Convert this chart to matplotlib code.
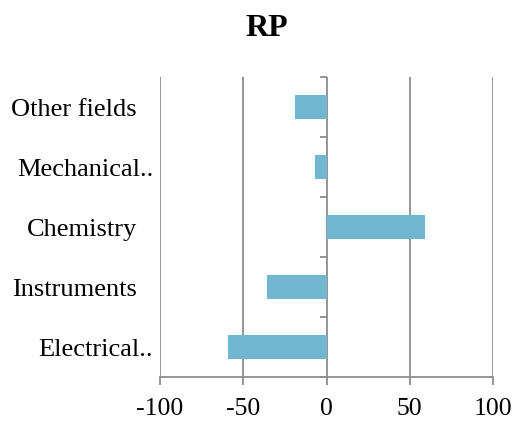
import numpy as np
import matplotlib.pyplot as plt
import matplotlib.transforms as mtransforms

# data (bottom to top)
categories = ['Electrical..', 'Instruments', 'Chemistry', 'Mechanical..', 'Other fields']
values = [-59, -36, 59, -7, -19]
xticks = [-100, -50, 0, 50, 100]

plt.rcParams['font.family'] = ['Liberation Serif', 'DejaVu Serif']
grey = '#8c8c8c'

fig = plt.figure(figsize=(5.17, 4.24), dpi=100)
ax = fig.add_axes([160/517, 1 - 377/424, 333/517, 300/424])

ypos = np.arange(len(categories))
ax.barh(ypos, values, height=0.4, color='#70b7cf', zorder=3)

ax.set_xlim(-100, 100)
ax.set_ylim(-0.5, len(categories) - 0.5)
ax.set_xticks(xticks)
ax.set_xticklabels([str(t) for t in xticks], fontsize=18.5)
ax.grid(axis='x', color=grey, linewidth=1.3, zorder=0)
ax.tick_params(axis='x', length=6, width=1.3, color=grey, pad=9)

ax.set_yticks(ypos)
ax.set_yticklabels(categories, fontsize=19)
ax.tick_params(axis='y', length=0, pad=5)
# shift the non-truncated labels a bit left, like the original
for lab in ax.get_yticklabels():
    if not lab.get_text().endswith('..'):
        lab.set_transform(lab.get_transform() + mtransforms.ScaledTranslation(-16/100, 0, fig.dpi_scale_trans))

for s in ['top', 'right', 'left']:
    ax.spines[s].set_visible(False)
ax.spines['bottom'].set_color(grey)
ax.spines['bottom'].set_linewidth(1.3)

# category boundary ticks on the zero line
sec = ax.secondary_yaxis(0.5)
sec.set_yticks(np.arange(-0.5, len(categories), 1.0))
sec.set_yticklabels([])
sec.spines['left'].set_visible(False)
sec.spines['right'].set_visible(False)
sec.tick_params(axis='y', length=5, width=1.3, color=grey, direction='in')

fig.suptitle('RP', fontsize=23, fontweight='bold', x=267/517, y=1 - 14/424, va='top')

fig.savefig('out.png', dpi=100)
